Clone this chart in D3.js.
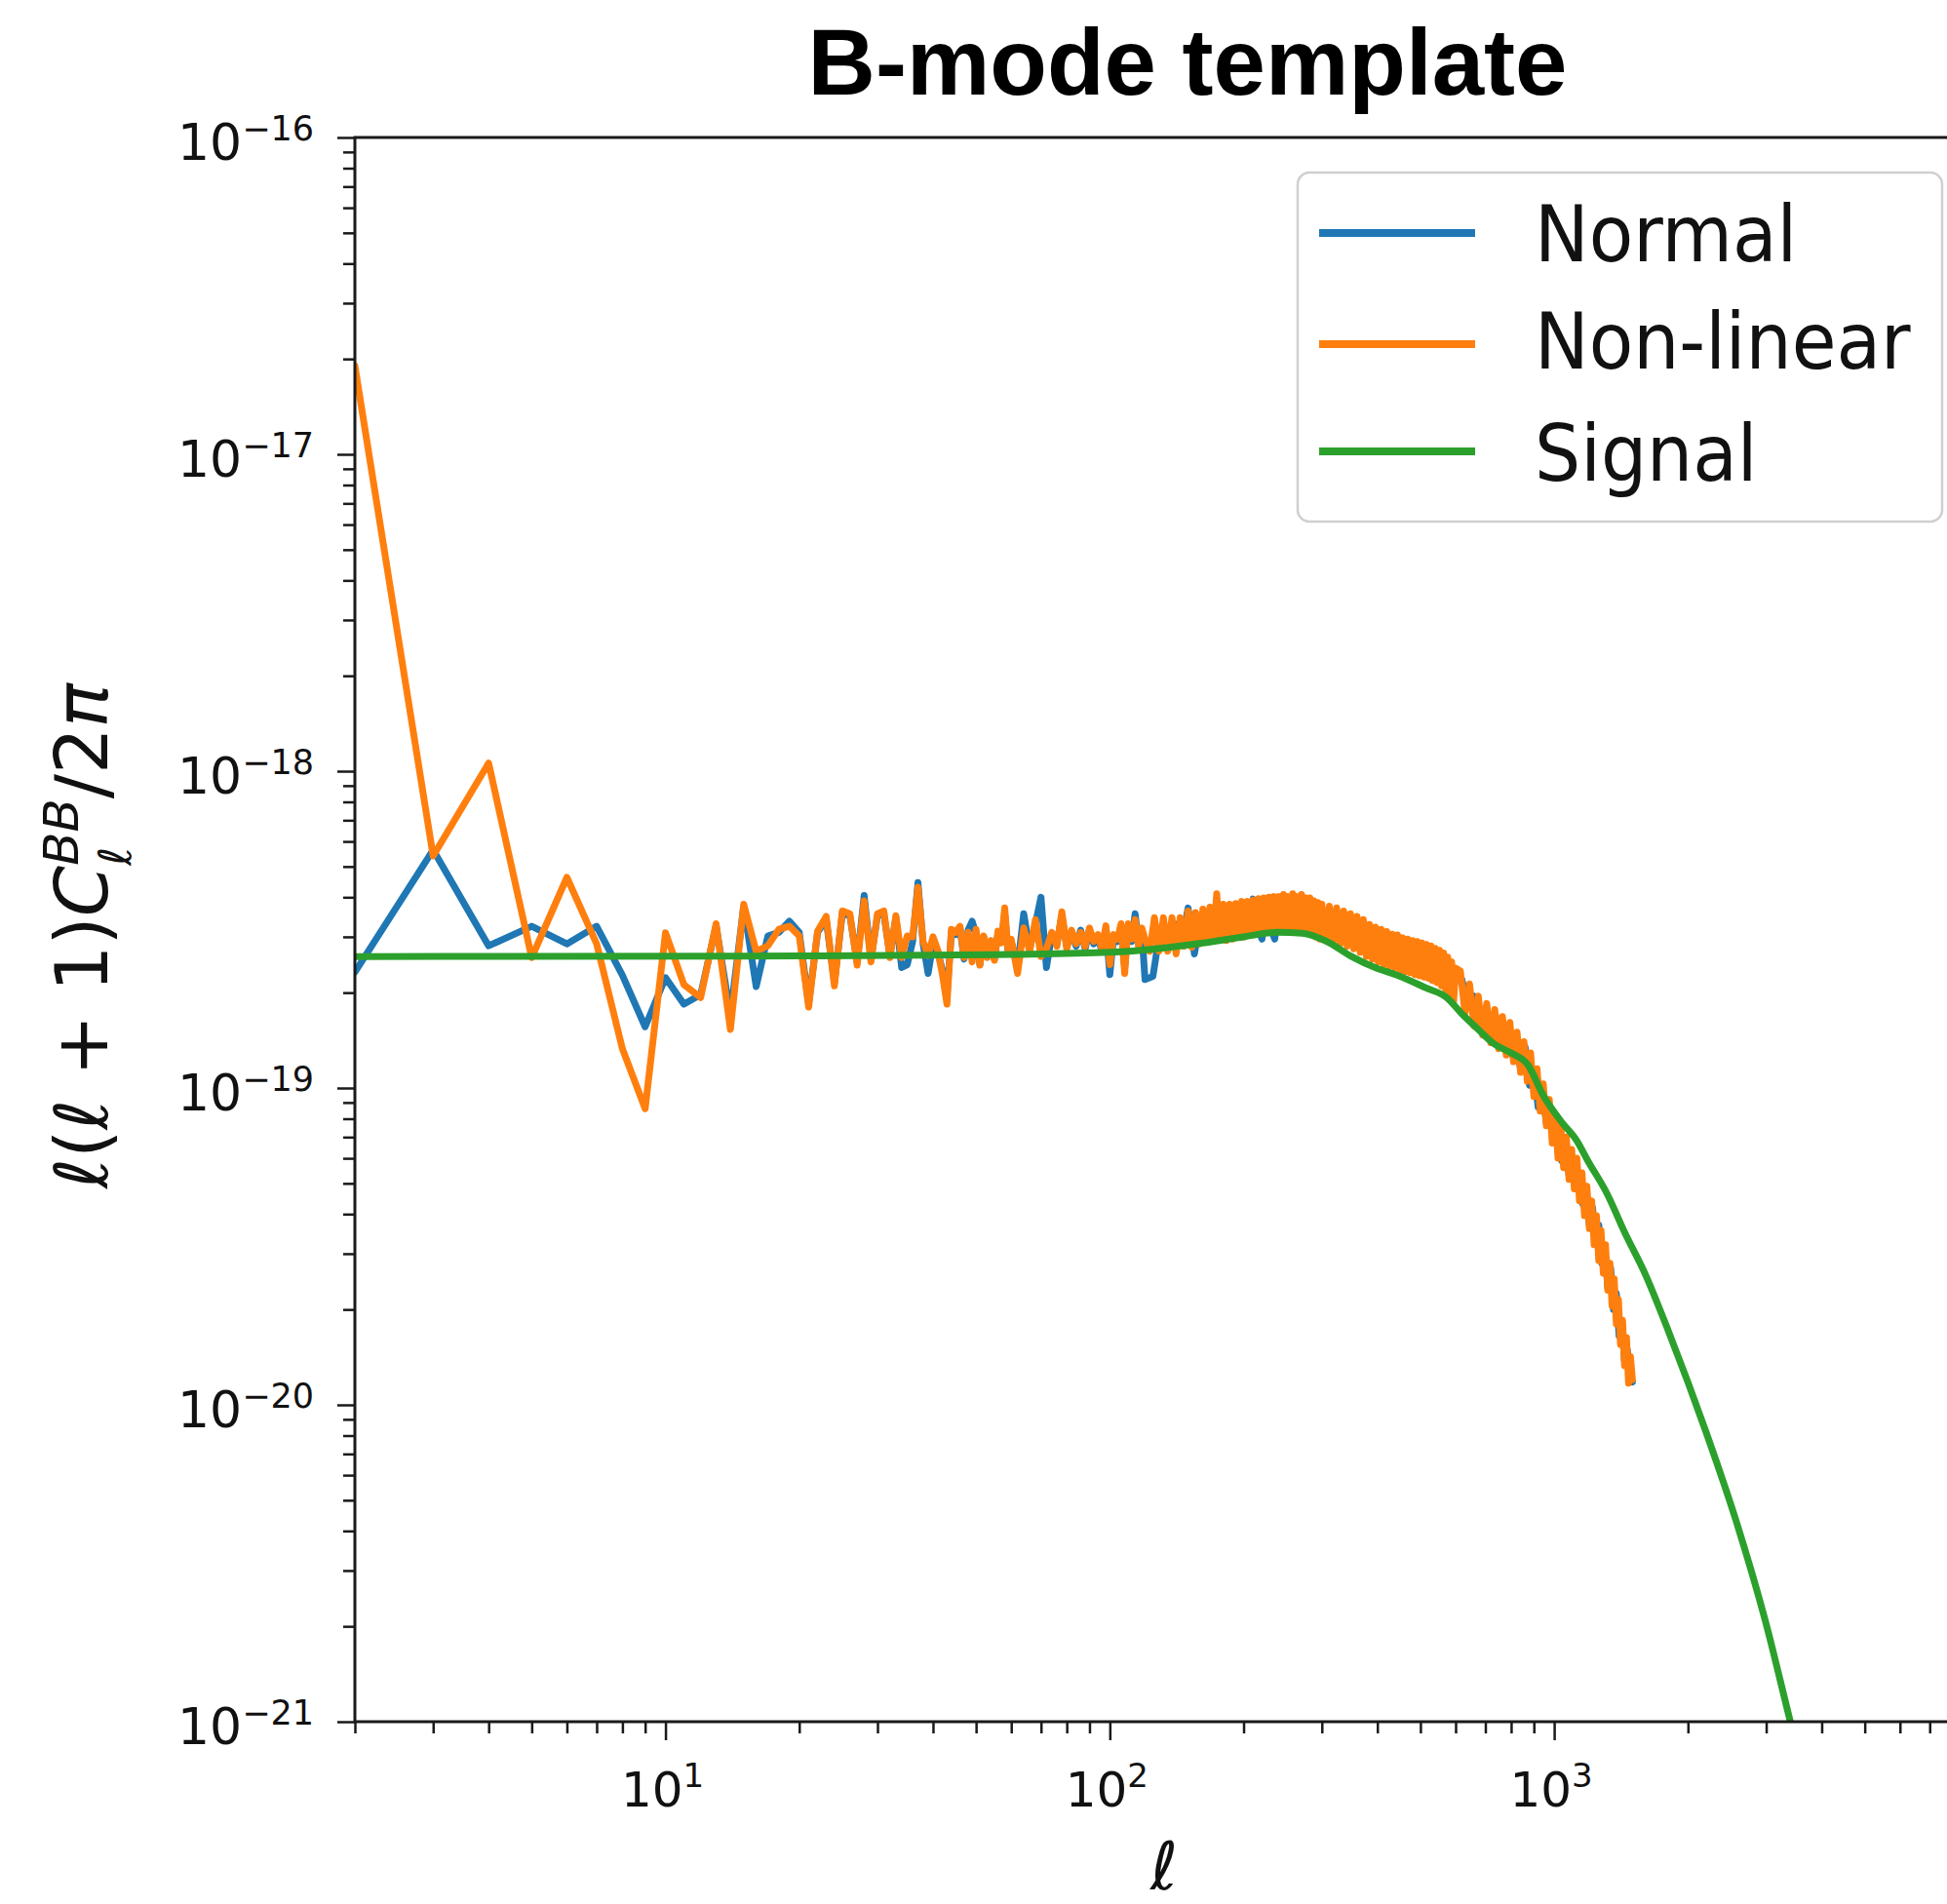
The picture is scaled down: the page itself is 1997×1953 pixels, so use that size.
<!DOCTYPE html>
<html>
<head>
<meta charset="utf-8">
<script src="https://cdn.jsdelivr.net/npm/d3@7"></script>
<style>
  body { margin: 0; background: #fff; }
  svg { display: block; }
</style>
</head>
<body>
<script>
// all spectrum values below are in units of 1e-19
var UNIT = 1e-19;

// multipoles
var nonlinearEll = d3.range(2, 61).concat(d3.range(62, 121, 2), d3.range(123, 301, 3), d3.range(306, 601, 6), d3.range(615, 1501, 15));
var normalEll = d3.range(2, 61).concat(d3.range(62, 121, 2), d3.range(125, 301, 5), d3.range(310, 601, 10), d3.range(620, 1501, 20));

// Non-linear (orange)
var nonlinearLow = [190, 5.4, 10.6, 2.58, 4.62, 2.85, 1.33, 0.86, 3.09, 2.12,
  1.93, 3.30, 1.53, 3.80, 2.70, 2.81, 3.17, 3.24, 3.02, 1.80,
  3.13, 3.48, 2.10, 3.62, 3.55, 2.44, 3.90, 2.50, 3.55, 3.62,
  2.58, 3.50, 2.58, 3.02, 3.00, 4.30, 2.90, 2.62, 3.00, 2.72,
  2.28, 1.84, 3.17, 3.10, 3.24, 2.58, 3.10, 2.50, 3.17, 2.44,
  3.02, 2.58, 2.92, 2.53, 3.13, 2.87, 3.70, 2.72, 2.95];
var nonlinearB = [2.30, 3.20, 2.70, 3.40, 2.60, 2.75, 3.10, 2.80, 3.60, 2.75,
  3.15, 2.85, 3.10, 2.80, 3.20, 2.90, 3.05, 2.75, 3.25, 2.45,
  3.05, 2.95, 3.30, 2.30, 3.30, 2.95, 3.40, 2.80, 3.20, 2.95];
var nonlinearC = [2.70, 3.45, 2.70, 3.45, 2.70, 3.45, 2.65, 3.45, 2.80, 3.62,
  2.78, 3.58, 2.85, 3.67, 2.90, 3.72, 3.00, 4.10, 2.95, 3.80,
  2.92, 3.80, 2.95, 3.82, 3.00, 3.88, 3.00, 3.88, 3.05, 3.92,
  3.08, 3.96, 3.10, 3.98, 3.12, 4.00, 3.12, 4.02, 3.15, 4.02,
  3.18, 4.08, 3.15, 4.02, 3.20, 4.10, 3.15, 4.02, 3.18, 4.08,
  3.10, 3.98, 3.10, 3.98, 3.05, 3.90, 3.00, 3.85, 2.95, 3.80];
var nonlinearD = [2.95, 3.75, 2.90, 3.70, 2.85, 3.62, 2.80, 3.55, 2.75, 3.48,
  2.68, 3.40, 2.60, 3.28, 2.55, 3.22, 2.50, 3.17, 2.45, 3.12,
  2.42, 3.06, 2.40, 3.04, 2.35, 2.98, 2.33, 2.95, 2.31, 2.92,
  2.28, 2.90, 2.26, 2.87, 2.24, 2.84, 2.22, 2.81, 2.18, 2.76,
  2.15, 2.72, 2.10, 2.67, 2.04, 2.59, 1.97, 2.50, 1.88, 2.39];
var nonlinearE = [2.34, 1.72, 2.13, 1.57, 1.95, 1.47, 1.85, 1.39, 1.77, 1.33,
  1.68, 1.27, 1.61, 1.21, 1.50, 1.12, 1.40, 1.05, 1.29, 0.94,
  1.15, 0.845, 1.03, 0.76, 0.92, 0.67, 0.82, 0.60, 0.76, 0.56,
  0.70, 0.515, 0.64, 0.48, 0.60, 0.44, 0.54, 0.395, 0.49, 0.36,
  0.44, 0.32, 0.395, 0.285, 0.355, 0.26, 0.32, 0.23, 0.28, 0.205,
  0.25, 0.18, 0.215, 0.155, 0.185, 0.133, 0.163, 0.117, 0.142, 0.12];

// Normal (blue)
var normalLow = [2.32, 5.64, 2.81, 3.24, 2.85, 3.24, 2.27, 1.56, 2.23, 1.84,
  1.97, 3.25, 1.70, 3.75, 2.09, 3.02, 3.10, 3.36, 3.10, 1.85,
  3.10, 3.40, 2.15, 3.55, 3.50, 2.50, 4.05, 2.55, 3.50, 3.55,
  2.62, 3.45, 2.40, 2.45, 2.90, 4.45, 2.85, 2.30, 2.85, 2.70,
  2.35, 1.95, 3.10, 3.05, 3.20, 2.55, 3.15, 3.36, 3.05, 2.45,
  3.00, 2.60, 2.85, 2.55, 3.05, 2.90, 3.55, 2.70, 2.90];
var normalB = [2.40, 3.55, 2.75, 3.30, 4.00, 2.40, 3.05, 2.85, 3.50, 2.80,
  3.10, 2.80, 3.15, 2.75, 3.15, 2.85, 3.00, 2.70, 3.20, 2.28,
  3.00, 2.90, 3.25, 2.40, 3.25, 2.90, 3.55, 2.85, 3.15, 2.20];
var normalC = [2.25, 3.20, 2.80, 3.30, 2.85, 3.70, 2.65, 3.40, 3.00, 3.50,
  3.05, 3.70, 3.10, 3.60, 3.15, 3.65, 3.20, 3.95, 3.20, 2.95,
  3.90, 3.20, 2.95, 3.80, 3.25, 3.75, 3.30, 3.85, 3.25, 3.80,
  3.20, 3.70, 3.15, 3.65, 3.10, 3.55];
var normalD = [3.05, 3.45, 2.95, 3.35, 2.90, 3.25, 2.80, 3.10, 2.70, 3.00,
  2.60, 2.95, 2.50, 2.95, 2.40, 2.80, 2.40, 2.75, 2.30, 2.70,
  2.25, 2.65, 2.20, 2.60, 2.20, 2.50, 2.10, 2.40, 2.00, 2.20];
var normalE = [2.20, 1.80, 1.95, 1.60, 1.78, 1.45, 1.68, 1.35, 1.55, 1.28,
  1.45, 1.15, 1.35, 1.02, 1.15, 0.87, 0.98, 0.78, 0.86, 0.68,
  0.74, 0.59, 0.66, 0.53, 0.60, 0.48, 0.53, 0.43, 0.47, 0.37,
  0.42, 0.32, 0.37, 0.28, 0.315, 0.235, 0.27, 0.20, 0.225, 0.165,
  0.185, 0.137, 0.15, 0.125, 0.118];

// Signal (green)
var signalEll = [2, 20, 60, 100, 130, 162, 200, 238, 271, 308, 350, 398, 440, 515, 573, 621, 675,
  731, 800, 874, 944, 1040, 1122, 1190, 1313, 1444, 1600, 1813, 2197, 2570, 2990, 3394, 3800];
var signalVal = [2.60, 2.61, 2.64, 2.68, 2.76, 2.87, 3.00, 3.10, 3.08, 2.90, 2.60, 2.39, 2.28, 2.07, 1.93, 1.71, 1.53,
  1.38, 1.29, 1.18, 0.95, 0.78, 0.685, 0.59, 0.466, 0.348, 0.26, 0.169, 0.082, 0.0428, 0.0207, 0.0101, 0.0054];

var seriesNames = ["Normal", "Non-linear", "Signal"];
var seriesColors = ["#1f77b4", "#ff7f0e", "#2ca02c"];
var yDecades = [-16, -17, -18, -19, -20, -21];
var xDecades = [1, 2, 3];

var nonlinearVal = nonlinearLow.concat(nonlinearB, nonlinearC, nonlinearD, nonlinearE);
var normalVal = normalLow.concat(normalB, normalC, normalD, normalE);
if (nonlinearVal.length !== nonlinearEll.length) throw new Error("nonlinear " + nonlinearVal.length + " vs " + nonlinearEll.length);
if (normalVal.length !== normalEll.length) throw new Error("normal " + normalVal.length + " vs " + normalEll.length);

var FONT = "'DejaVu Sans', sans-serif";
var W = 1997, H = 1953;
var plotL = 364, plotR = 2020, plotT = 141, plotB = 1766;

var svg = d3.select("body").append("svg").attr("width", W).attr("height", H);

var x = d3.scaleLog().domain([2, 8600]).range([plotL, plotR]);
var y = d3.scaleLog().domain([1e-21, 1e-16]).range([plotB, plotT]);

svg.append("clipPath").attr("id", "plotclip")
  .append("rect").attr("x", plotL).attr("y", plotT).attr("width", plotR - plotL).attr("height", plotB - plotT);

var zip = function(a, b){ return a.map(function(v, i){ return [v, b[i]]; }); };

var line = d3.line().x(function(d){ return x(d[0]); }).y(function(d){ return y(d[1] * UNIT); });
var smooth = d3.line().curve(d3.curveMonotoneX).x(function(d){ return x(d[0]); }).y(function(d){ return y(d[1] * UNIT); });

var plot = svg.append("g").attr("clip-path", "url(#plotclip)");
var data = [zip(normalEll, normalVal), zip(nonlinearEll, nonlinearVal), zip(signalEll, signalVal)];
data.forEach(function(d, i){
  plot.append("path")
    .attr("d", i === 2 ? smooth(d) : line(d))
    .attr("fill", "none")
    .attr("stroke", seriesColors[i])
    .attr("stroke-width", 7)
    .attr("stroke-linejoin", "round")
    .attr("stroke-linecap", "round");
});

// ticks
var isMajor = function(v){ var l = Math.log10(v); return Math.abs(l - Math.round(l)) < 1e-6; };
var styleAxis = function(g){
  g.select(".domain").remove();
  g.selectAll(".tick line").attr("stroke", "#1a1a1a").attr("stroke-width", 2.5);
};
svg.append("g").attr("transform", "translate(0," + plotB + ")")
  .call(d3.axisBottom(x).tickValues(x.ticks().filter(function(v){ return !isMajor(v); })).tickSize(12).tickFormat(""))
  .call(styleAxis);
svg.append("g").attr("transform", "translate(0," + plotB + ")")
  .call(d3.axisBottom(x).tickValues(xDecades.map(function(e){ return Math.pow(10, e); })).tickSize(19).tickFormat(""))
  .call(styleAxis);
svg.append("g").attr("transform", "translate(" + plotL + ",0)")
  .call(d3.axisLeft(y).tickValues(y.ticks().filter(function(v){ return !isMajor(v); })).tickSize(12).tickFormat(""))
  .call(styleAxis);
svg.append("g").attr("transform", "translate(" + plotL + ",0)")
  .call(d3.axisLeft(y).tickValues(yDecades.map(function(e){ return Math.pow(10, e); })).tickSize(18).tickFormat(""))
  .call(styleAxis);

// spines (right one falls outside the picture)
svg.append("rect").attr("x", plotL).attr("y", plotT).attr("width", plotR - plotL).attr("height", plotB - plotT)
  .attr("fill", "none").attr("stroke", "#1a1a1a").attr("stroke-width", 3);

// tick labels
yDecades.forEach(function(e){
  var t = svg.append("text").attr("x", 322).attr("y", y(Math.pow(10, e)) + 23)
    .attr("text-anchor", "end").attr("font-family", FONT).attr("font-size", 52).attr("fill", "#111");
  t.append("tspan").text("10");
  t.append("tspan").attr("font-size", 35).attr("dy", -20).text("\u2212" + Math.abs(e));
});
xDecades.forEach(function(e){
  var t = svg.append("text").attr("x", x(Math.pow(10, e)) - 3).attr("y", 1853)
    .attr("text-anchor", "middle").attr("font-family", FONT).attr("font-size", 50).attr("fill", "#111");
  t.append("tspan").text("10");
  t.append("tspan").attr("font-size", 34).attr("dy", -20).text(String(e));
});

// axis labels
svg.append("text").attr("x", 1194).attr("y", 1938).attr("text-anchor", "middle")
  .attr("font-family", FONT).attr("font-style", "italic").attr("font-size", 68).attr("fill", "#111")
  .text("\u2113");

var yl = svg.append("g").attr("transform", "translate(110,960) rotate(-90)");
var ylInner = yl.append("g");
var pieces = [
  {t: "\u2113", it: true}, {t: "("}, {t: "\u2113", it: true}, {t: " + "}, {t: "1"}, {t: ")"},
  {t: "C", it: true}, {t: "BB", it: true, sup: "\u2113"}, {t: "/"}, {t: "2"}, {t: "\u03c0", it: true}
];
var cur = 0;
pieces.forEach(function(p){
  var size = p.sup ? 50 : 75;
  var t = ylInner.append("text").attr("x", cur).attr("y", p.sup ? -30 : 0)
    .attr("font-family", FONT).attr("font-size", size).attr("fill", "#111")
    .attr("font-style", p.it ? "italic" : "normal")
    .style("white-space", "pre")
    .text(p.t);
  var w = t.node().getComputedTextLength();
  if (p.sup){
    var s = ylInner.append("text").attr("x", cur).attr("y", 24)
      .attr("font-family", FONT).attr("font-size", 46).attr("font-style", "italic").attr("fill", "#111")
      .text(p.sup);
    w = Math.max(w, s.node().getComputedTextLength());
  }
  cur += w;
});
ylInner.attr("transform", "translate(" + (-cur / 2) + ",0)");

// title
svg.append("text").attr("x", 1218).attr("y", 97).attr("text-anchor", "middle")
  .attr("font-family", "'Liberation Sans', Arial, Helvetica, sans-serif").attr("font-weight", "bold")
  .attr("font-size", 96).attr("fill", "#000").text("B-mode template");

// legend
var legend = svg.append("g");
legend.append("rect").attr("x", 1331).attr("y", 177).attr("width", 661).attr("height", 358)
  .attr("rx", 12).attr("ry", 12)
  .attr("fill", "#fff").attr("fill-opacity", 0.8).attr("stroke", "#cfcfcf").attr("stroke-width", 2.5);
var legendY = [239, 353, 463];
var legendBase = [268, 378, 493];
seriesNames.forEach(function(name, i){
  legend.append("line").attr("x1", 1353).attr("x2", 1513).attr("y1", legendY[i]).attr("y2", legendY[i])
    .attr("stroke", seriesColors[i]).attr("stroke-width", 8);
  legend.append("text")
    .attr("transform", "translate(1574," + legendBase[i] + ") scale(0.93,1)")
    .attr("font-family", FONT).attr("font-size", 80).attr("fill", "#111")
    .text(name);
});
</script>
</body>
</html>
